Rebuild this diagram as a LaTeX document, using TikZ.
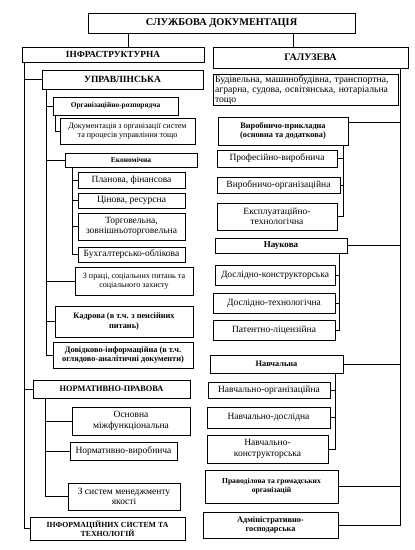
\documentclass[tikz,border=0pt]{standalone}
\usepackage{fontspec}
\setmainfont{Liberation Serif}
\begin{document}
\begin{tikzpicture}[x=1pt, y=-1pt, line width=0.5pt, every node/.style={draw, inner sep=1pt, align=center, font=\fontsize{9.5}{10.5}\selectfont}]
		\tikzset{sz/.style 2 args={minimum width=#1pt, minimum height=#2pt}}
		\tikzset{fs/.style={font=\fontsize{#1}{#1}\selectfont\bfseries}}
		\tikzstyle{head} = [font=\fontsize{8.3}{9.5}\selectfont\bfseries]
		\tikzstyle{small} = [font=\fontsize{8.1}{9.2}\selectfont]
		\useasboundingbox (0,0) rectangle (415,550);
		
		% top and the two branches
		\node[fs=10.3, sz={267}{20}] (top) at (221.5,23) {СЛУЖБОВА ДОКУМЕНТАЦІЯ};
		\node[fs=9.3, sz={182}{15}] (infra) at (113,54.5) {ІНФРАСТРУКТУРНА};
		\node[fs=10, sz={195}{21}] (galuz) at (310.5,57.5) {ГАЛУЗЕВА};
		
		% left column
		\node[fs=9.5, sz={161}{19}] (upr) at (122.5,79.5) {УПРАВЛІНСЬКА};
		\node[fs=7.4, sz={125}{18}] (org) at (115.5,106) {Організаційно-розпорядча};
		\node[small, sz={135}{26}] (dok) at (127.5,131) {Документація з організації систем\\та процесів управління тощо};
		\node[fs=7.5, sz={132}{14}] (ekon) at (131,160) {Економічна};
		\node[sz={107}{16}] (plan) at (131.5,180) {Планова, фінансова};
		\node[sz={107}{15}] (cin) at (131.5,200.5) {Цінова, ресурсна};
		\node[sz={107}{27}] (torg) at (131.5,226.5) {Торговельна,\\зовнішньоторговельна};
		\node[sz={107}{15}] (bukh) at (131.5,254.5) {Бухгалтерсько-облікова};
		\node[small, sz={118}{28}] (prac) at (134,281) {З праці, соціальних питань та\\соціального захисту};
		\node[head, sz={138}{31}] (kadr) at (124,321.5) {Кадрова (в т.ч. з пенсійних\\питань)};
		\node[head, sz={140}{26}] (dovid) at (123,355) {Довідково-інформаційна (в т.ч.\\оглядово-аналітичні документи)};
		\node[head, sz={157}{18}] (norm) at (111.5,389) {НОРМАТИВНО-ПРАВОВА};
		\node[sz={118}{28}] (osn) at (131,421) {Основна\\міжфункціональна};
		\node[sz={107}{18}] (nvyr) at (123.5,451) {Нормативно-виробнича};
		\node[sz={112}{27}] (sysm) at (124,496.5) {З систем менеджменту\\якості};
		\node[head, sz={155}{23}, font=\fontsize{7.8}{9}\selectfont\bfseries] (infsys) at (107.5,528.5) {ІНФОРМАЦІЙНИХ СИСТЕМ ТА\\ТЕХНОЛОГІЙ};
		
		% right column
		\node[sz={185}{30}, align=left, text width=181pt, font=\fontsize{9.7}{10.2}\selectfont] (bud) at (305.5,90) {Будівельна, машинобудівна, транспортна,\\аграрна, судова, освітянська, нотаріальна\\тощо};
		\node[head, sz={130}{28}] (vp) at (283,131) {Виробничо-прикладна\\(основна та додаткова)};
		\node[sz={120}{17}] (prof) at (277,158.5) {Професійно-виробнича};
		\node[sz={123}{16}] (vorg) at (278.5,185) {Виробничо-організаційна};
		\node[sz={120}{27}] (ekspl) at (277,216.5) {Експлуатаційно-\\технологічна};
		\node[fs=9, sz={132}{15}] (nauk) at (281,245.5) {Наукова};
		\node[sz={120}{20}] (dkon) at (275,275) {Дослідно-конструкторська};
		\node[sz={122}{20}] (dtech) at (274,303) {Дослідно-технологічна};
		\node[sz={122}{20}] (pat) at (274,330) {Патентно-ліцензійна};
		\node[head, sz={133}{18}] (navch) at (276.5,364) {Навчальна};
		\node[sz={122}{16}] (norg) at (269,390) {Навчально-організаційна};
		\node[sz={123}{21}] (ndosl) at (268.5,417.5) {Навчально-дослідна};
		\node[sz={121}{28}] (nkon) at (267.5,449) {Навчально-\\конструкторська};
		\node[head, sz={133}{33}, font=\fontsize{7.6}{9}\selectfont\bfseries] (pravo) at (271.5,486.5) {Праводілова та громадських\\організацій};
		\node[head, sz={135}{26}] (admin) at (270.5,525) {Адміністративно-\\господарська};
		
		% connectors from the top
		\draw ([xshift=15pt]infra.north) coordinate (a) -- (a |- top.south);
		\draw ([xshift=-17.5pt]galuz.north) coordinate (b) -- (b |- top.south);
		
		% left rails
		\draw ([xshift=2pt]infra.south west) |- (upr.west);
		\draw ([xshift=2pt]infra.south west) |- (norm.west);
		\draw ([xshift=2pt]infra.south west) |- (infsys.west);
		\draw ([xshift=4pt]upr.south west) |- (org.west);
		\draw ([xshift=4pt]upr.south west) |- (ekon.west);
		\draw ([xshift=4pt]upr.south west) |- (prac.west);
		\draw ([xshift=4pt]upr.south west) |- (kadr.west);
		\draw ([xshift=4pt]upr.south west) |- (dovid.west);
		\draw ([xshift=2pt]org.south west) |- (dok.west);
		\draw ([xshift=7pt]ekon.south west) |- (plan.west);
		\draw ([xshift=7pt]ekon.south west) |- (cin.west);
		\draw ([xshift=7pt]ekon.south west) |- (torg.west);
		\draw ([xshift=7pt]ekon.south west) |- (bukh.west);
		\draw ([xshift=12pt]norm.south west) |- (osn.west);
		\draw ([xshift=12pt]norm.south west) |- (nvyr.west);
		\draw ([xshift=12pt]norm.south west) |- (sysm.west);
		
		% right rails
		\draw ([xshift=-8pt]galuz.south east) |- ([yshift=-5pt]vp.north east);
		\draw ([xshift=-8pt]galuz.south east) |- (nauk.east);
		\draw ([xshift=-8pt]galuz.south east) |- (navch.east);
		\draw ([xshift=-8pt]galuz.south east) |- (pravo.east);
		\draw ([xshift=-8pt]galuz.south east) |- (admin.east);
		\draw ([xshift=-5pt]vp.south east) |- (prof.east);
		\draw ([xshift=-5pt]vp.south east) |- (vorg.east);
		\draw ([xshift=-5pt]vp.south east) |- (ekspl.east);
		\draw ([xshift=-8pt]nauk.south east) |- (dkon.east);
		\draw ([xshift=-8pt]nauk.south east) |- (dtech.east);
		\draw ([xshift=-8pt]nauk.south east) |- (pat.east);
		\draw ([xshift=-8pt]navch.south east) |- (norg.east);
		\draw ([xshift=-8pt]navch.south east) |- (ndosl.east);
		\draw ([xshift=-8pt]navch.south east) |- (nkon.east);
	\end{tikzpicture}
\end{document}
